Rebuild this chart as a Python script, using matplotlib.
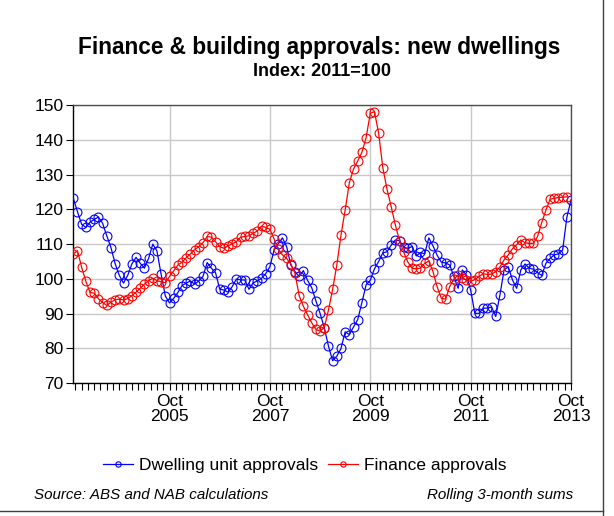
import numpy as np
import pandas as pd
import matplotlib
matplotlib.use("Agg")
import matplotlib.pyplot as plt
from matplotlib.lines import Line2D

plt.rcParams["font.family"] = ["Liberation Sans", "DejaVu Sans"]

# monthly, Nov 2003 .. Oct 2013 (index 2011=100, rolling 3-month sums)
months = pd.period_range("2003-11", periods=120, freq="M")

dwelling = [
    123.2, 119.3, 115.7, 114.8, 116.3, 117.1, 117.8, 116.0, 112.4, 109.0,
    104.4, 101.0, 98.8, 101.0, 104.3, 106.2, 104.5, 103.1, 105.9, 110.0,
    108.0, 101.3, 95.1, 93.1, 94.4, 96.1, 98.1, 98.8, 99.4, 98.5,
    99.4, 100.7, 104.7, 103.1, 101.8, 97.1, 96.8, 96.2, 97.8, 100.0,
    99.7, 99.7, 97.0, 98.9, 99.4, 100.2, 101.5, 103.5, 108.3, 110.1,
    111.8, 109.3, 104.0, 102.1, 100.7, 102.4, 99.6, 97.5, 93.7, 90.1,
    86.0, 80.7, 76.5, 77.8, 80.0, 84.8, 84.0, 86.2, 88.3, 93.2,
    98.3, 99.6, 102.9, 105.0, 107.5, 107.8, 109.7, 111.2, 111.0, 109.1,
    108.8, 109.3, 106.6, 107.6, 107.2, 111.8, 109.5, 106.8, 104.8, 104.6,
    104.0, 100.7, 97.3, 102.6, 101.1, 96.8, 90.1, 90.1, 91.6, 91.6,
    91.9, 89.2, 95.4, 102.6, 103.5, 99.7, 97.3, 102.6, 104.3, 103.1,
    102.8, 101.8, 101.0, 104.5, 105.9, 106.9, 107.2, 108.3, 117.7, 122.7,
]

finance = [
    107.2, 108.1, 103.3, 99.3, 96.1, 95.9, 94.3, 93.2, 92.4, 93.3,
    94.0, 94.2, 94.0, 94.3, 95.2, 96.2, 97.3, 98.5, 99.5, 100.2,
    99.5, 99.2, 98.9, 100.7, 102.3, 104.0, 104.8, 106.1, 107.2, 108.4,
    109.3, 110.4, 112.2, 112.0, 110.7, 109.3, 108.8, 109.5, 110.1, 110.7,
    112.0, 112.2, 112.4, 113.1, 113.8, 115.2, 114.8, 114.3, 111.5, 108.5,
    106.9, 105.9, 104.3, 101.6, 95.2, 92.2, 89.7, 87.4, 85.5, 85.0,
    86.0, 91.0, 97.0, 104.0, 112.6, 119.8, 127.7, 131.6, 133.9, 136.4,
    140.6, 147.6, 148.1, 141.9, 132.0, 125.8, 120.8, 115.5, 111.0, 107.7,
    104.8, 103.1, 102.9, 103.1, 104.5, 105.1, 102.1, 97.7, 94.4, 94.2,
    97.8, 100.0, 101.1, 100.4, 99.6, 99.3, 99.8, 100.7, 101.5, 101.3,
    101.4, 102.1, 103.4, 105.5, 106.9, 108.7, 109.8, 111.2, 110.4, 110.2,
    110.2, 112.2, 116.2, 119.8, 122.9, 123.2, 123.4, 123.5, 123.6, np.nan,
]

x = np.arange(len(months))
major = [i for i, m in enumerate(months) if m.month == 10 and m.year % 2 == 1]
major_labels = [f"Oct\n{months[i].year}" for i in major]

fig = plt.figure(figsize=(6.14, 5.16), dpi=100)
ax = fig.add_axes([0.1194, 0.2572, 0.8106, 0.5393])

ax.plot(x, dwelling, color="#0000ff", lw=0.9, marker="o", ms=6.4,
        mfc="none", mec="#0000ff", mew=0.8, label="Dwelling unit approvals", zorder=3)
ax.plot(x, finance, color="#ff0000", lw=0.9, marker="o", ms=6.4,
        mfc="none", mec="#ff0000", mew=0.8, label="Finance approvals", zorder=3)

ax.set_xlim(0, len(months) - 1)
ax.set_ylim(70, 150)
ax.set_yticks(np.arange(70, 151, 10))
ax.set_xticks(major)
ax.set_xticklabels(major_labels)
ax.set_xticks(np.arange(0.5, len(months), 1.5), minor=True)

ax.grid(True, which="major", color="#c8c8c8", lw=1.0, zorder=0)
ax.tick_params(axis="both", which="major", direction="out", length=5,
               width=0.8, labelsize=12.5, colors="black")
ax.tick_params(axis="x", which="minor", direction="out", length=5, width=0.8)
ax.tick_params(axis="x", which="major", pad=3)
ax.tick_params(axis="y", pad=2)
for lbl in ax.get_xticklabels():
    lbl.set_linespacing(1.0)

ax.spines["left"].set_color("black")
ax.spines["bottom"].set_color("black")
ax.spines["top"].set_color("#505050")
ax.spines["right"].set_color("#505050")
for s in ax.spines.values():
    s.set_linewidth(1.0)

fig.text(0.519, 0.908, "Finance & building approvals: new dwellings",
         ha="center", va="center", fontsize=16.3, fontweight="bold")
fig.text(0.524, 0.862, "Index: 2011=100", ha="center", va="center",
         fontsize=13, fontweight="bold")

leg = fig.legend(loc="center", bbox_to_anchor=(0.496, 0.098), ncol=2,
                 frameon=False, fontsize=12.5, handlelength=1.72,
                 handletextpad=0.35, columnspacing=0.57, markerscale=0.6)

fig.text(0.056, 0.040, "Source: ABS and NAB calculations", ha="left",
         va="center", fontsize=10.9, style="italic")
fig.text(0.934, 0.040, "Rolling 3-month sums", ha="right", va="center",
         fontsize=10.9, style="italic")

# outer frame edges visible on the right and bottom
fig.add_artist(Line2D([0.982, 0.982], [0.0, 1.0], transform=fig.transFigure,
                      color="#404040", lw=1.0))
fig.add_artist(Line2D([0.0, 0.982], [0.0095, 0.0095], transform=fig.transFigure,
                      color="#404040", lw=1.0))

fig.savefig("out.png", dpi=100)
